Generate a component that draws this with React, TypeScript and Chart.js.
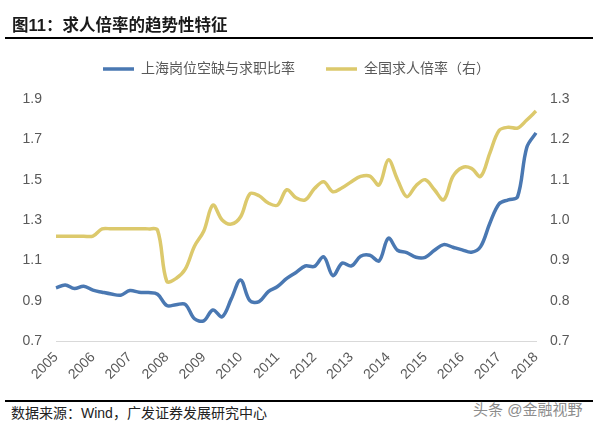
import React, { useEffect, useRef } from 'react';
import { Chart, registerables } from 'chart.js';

Chart.register(...registerables);

const YEARS = ['2005', '2006', '2007', '2008', '2009', '2010', '2011', '2012', '2013', '2014', '2015', '2016', '2017', '2018'];

// quarterly points, 2005Q1 .. 2018Q1
const SH_RATIO = [
  0.963, 0.978, 0.960, 0.972, 0.952, 0.942, 0.933, 0.927, 0.950, 0.942,
  0.940, 0.932, 0.876, 0.880, 0.882, 0.810, 0.800, 0.854, 0.820, 0.910,
  1.003, 0.900, 0.895, 0.945, 0.970, 1.010, 1.040, 1.072, 1.070, 1.118,
  1.024, 1.086, 1.072, 1.120, 1.125, 1.097, 1.210, 1.150, 1.138, 1.115,
  1.115, 1.150, 1.178, 1.165, 1.152, 1.140, 1.168, 1.284, 1.380, 1.400,
  1.415, 1.660, 1.732,
];

const NATIONAL = [
  0.960, 0.960, 0.960, 0.960, 0.960, 0.978, 0.978, 0.978, 0.978, 0.978,
  0.978, 0.975, 0.848, 0.855, 0.878, 0.935, 0.972, 1.037, 1.000, 0.990,
  1.008, 1.065, 1.060, 1.042, 1.037, 1.075, 1.055, 1.050, 1.078, 1.095,
  1.070, 1.080, 1.095, 1.108, 1.109, 1.087, 1.149, 1.100, 1.058, 1.085,
  1.100, 1.075, 1.050, 1.108, 1.130, 1.128, 1.108, 1.166, 1.222, 1.230,
  1.228, 1.248, 1.270,
];

const SERIES_NAMES = ['上海岗位空缺与求职比率', '全国求人倍率（右）'];
const TITLE = '图11：求人倍率的趋势性特征';
const SOURCE = '数据来源：Wind，广发证券发展研究中心';
const WATERMARK = '头条 @金融视野';

const LEFT_MIN = 0.7, LEFT_MAX = 1.9, LEFT_STEP = 0.2;
const RIGHT_MIN = 0.7, RIGHT_MAX = 1.3, RIGHT_STEP = 0.1;

const QUARTERS: string[] = YEARS.flatMap((y, i) =>
  i < YEARS.length - 1 ? [1, 2, 3, 4].map((q) => `${y}Q${q}`) : [`${y}Q1`]
);

const BLUE = '#4A78B2';
const YELLOW = '#DCC96C';
const GREY = '#595959';
const FONT = "'Liberation Sans', 'Noto Sans CJK SC', sans-serif";

export default function App() {
  const ref = useRef<HTMLCanvasElement | null>(null);

  useEffect(() => {
    if (!ref.current) return;
    const chart = new Chart(ref.current, {
      type: 'line',
      data: {
        labels: QUARTERS,
        datasets: [
          {
            label: SERIES_NAMES[0],
            data: SH_RATIO,
            borderColor: BLUE,
            backgroundColor: BLUE,
            borderWidth: 3.5,
            pointRadius: 0,
            tension: 0.35,
            yAxisID: 'y',
          },
          {
            label: SERIES_NAMES[1],
            data: NATIONAL,
            borderColor: YELLOW,
            backgroundColor: YELLOW,
            borderWidth: 3.5,
            pointRadius: 0,
            tension: 0.35,
            yAxisID: 'y1',
          },
        ],
      },
      options: {
        responsive: false,
        animation: false,
        layout: { padding: { top: 31, left: 0, right: 0, bottom: 0 } },
        plugins: {
          legend: {
            position: 'top',
            labels: {
              boxWidth: 31,
              boxHeight: 0,
              padding: 31,
              color: GREY,
              font: { family: FONT, size: 14 },
            },
          },
          subtitle: {
            display: true,
            text: '',
            weight: 500,
            padding: 0,
            font: { size: 13, lineHeight: 1 },
          } as any,
          tooltip: { enabled: false },
        },
        scales: {
          x: {
            type: 'category',
            offset: false,
            grid: { display: false, drawTicks: false },
            border: { display: true, color: '#D9D9D9', width: 1 },
            ticks: {
              autoSkip: false,
              minRotation: 45,
              maxRotation: 45,
              padding: 8,
              color: GREY,
              font: { family: FONT, size: 14 },
              callback: (_v: any, i: number) => (i % 4 === 0 ? YEARS[i / 4] : ''),
            },
            afterFit: (s: any) => { s.height = 50; },
          },
          y: {
            position: 'left',
            min: LEFT_MIN,
            max: LEFT_MAX,
            grid: { display: false, drawTicks: false },
            border: { display: false },
            ticks: {
              stepSize: LEFT_STEP,
              padding: 14,
              color: GREY,
              font: { family: FONT, size: 14 },
              callback: (v: any) => Number(v).toFixed(1),
            },
            afterFit: (s: any) => { s.width = 56; },
          },
          y1: {
            position: 'right',
            min: RIGHT_MIN,
            max: RIGHT_MAX,
            grid: { display: false, drawTicks: false },
            border: { display: false },
            ticks: {
              stepSize: RIGHT_STEP,
              padding: 14,
              color: GREY,
              font: { family: FONT, size: 14 },
              callback: (v: any) => Number(v).toFixed(1),
            },
            afterFit: (s: any) => { s.width = 57; },
          },
        },
      },
    });
    return () => chart.destroy();
  }, []);

  return (
    <div style={{ position: 'absolute', left: 0, top: 0, width: 593, height: 431, background: '#fff', overflow: 'hidden' }}>
      <canvas ref={ref} width={593} height={391} style={{ position: 'absolute', left: 0, top: 0, width: 593, height: 391 }} />
      <div style={{ position: 'absolute', left: 12, top: 14, fontFamily: FONT, fontWeight: 'bold', fontSize: 16.5, lineHeight: '22px', color: '#1a1a1a', whiteSpace: 'nowrap' }}>{TITLE}</div>
      <div style={{ position: 'absolute', left: 5, top: 37, width: 588, height: 2, background: '#000' }} />
      <div style={{ position: 'absolute', left: 5, top: 400, width: 588, height: 1.5, background: '#000' }} />
      <div style={{ position: 'absolute', left: 11, top: 403, fontFamily: FONT, fontSize: 14, lineHeight: '20px', color: '#222', whiteSpace: 'nowrap' }}>{SOURCE}</div>
      <div style={{ position: 'absolute', left: 473, top: 400, fontFamily: FONT, fontSize: 15, lineHeight: '20px', color: '#8c8c8c', whiteSpace: 'nowrap', textShadow: '0 0 1px #fff' }}>{WATERMARK}</div>
    </div>
  );
}
